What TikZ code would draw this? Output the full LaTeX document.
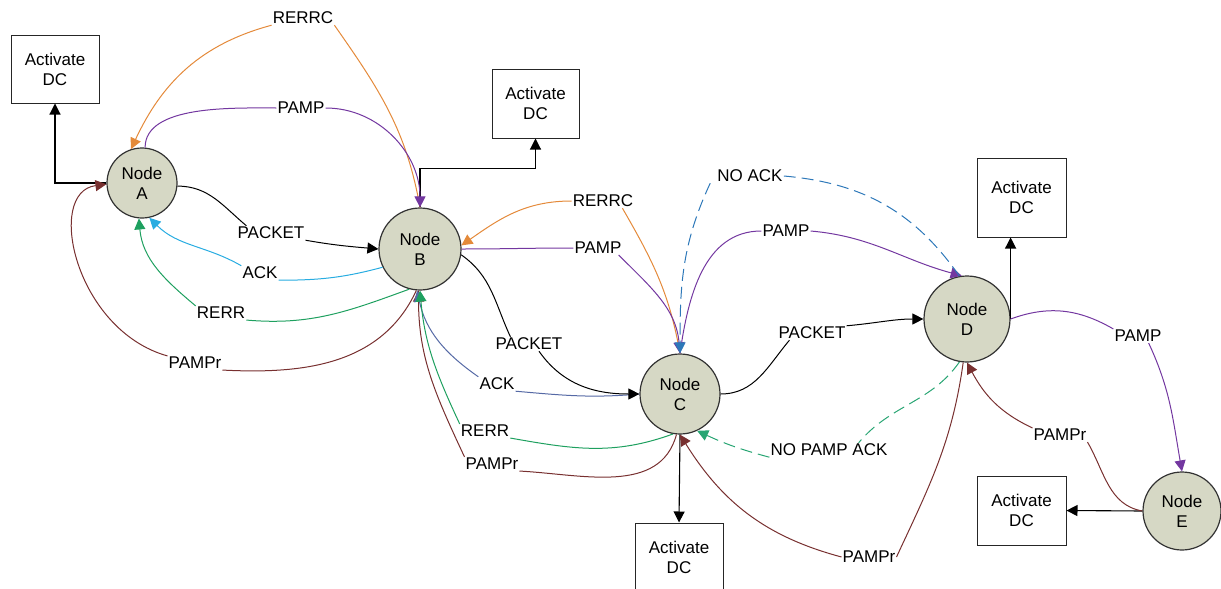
\documentclass[tikz,border=0pt]{standalone}
\usepackage{fontspec}
\setmainfont{Liberation Sans}
\usetikzlibrary{arrows.meta}
\definecolor{nodefill}{RGB}{214,216,197}
\definecolor{nodeedge}{RGB}{50,50,50}
\definecolor{orng}{RGB}{228,138,58}
\definecolor{purp}{RGB}{115,55,160}
\definecolor{cyn}{RGB}{40,172,225}
\definecolor{grn}{RGB}{30,160,95}
\definecolor{brn}{RGB}{120,48,48}
\definecolor{blu}{RGB}{45,120,185}
\definecolor{slate}{RGB}{85,105,165}
\definecolor{grndash}{RGB}{40,165,115}
\begin{document}
\begin{tikzpicture}[x=1pt,y=1pt,
  font=\fontsize{17}{20}\selectfont,
  station/.style={circle,draw=nodeedge,line width=1.2pt,fill=nodefill,inner sep=0pt,align=center},
  dcbox/.style={draw=black!85,line width=1pt,inner sep=0pt,align=center},
  lbl/.style={inner sep=1pt},
  link/.style={line width=1pt},
  blk/.style={line width=1.1pt,black},
  arrowed/.style={-{Triangle[length=11pt,width=11pt]}},
  dashline/.style={dash pattern=on 12pt off 6pt},
]
\useasboundingbox (0,0) rectangle (1221,-589);

% stations
\node[station,minimum size=70pt] (A) at (142,-183) {Node\\A};
\node[station,minimum size=82pt] (B) at (420,-249) {Node\\B};
\node[station,minimum size=80pt] (C) at (680,-394) {Node\\C};
\node[station,minimum size=86pt] (D) at (967,-319) {Node\\D};
\node[station,minimum size=78pt] (E) at (1182,-511) {Node\\E};

% activation boxes
\node[dcbox,minimum width=88pt,minimum height=68pt] (box1) at (55,-69) {Activate\\DC};
\node[dcbox,minimum width=87pt,minimum height=69pt] (box2) at (535.5,-103.5) {Activate\\DC};
\node[dcbox,minimum width=88pt,minimum height=69pt] (box3) at (679,-557.5) {Activate\\DC};
\node[dcbox,minimum width=89pt,minimum height=79pt] (box4) at (1021.5,-197.5) {Activate\\DC};
\node[dcbox,minimum width=89pt,minimum height=69pt] (box5) at (1021.5,-510.5) {Activate\\DC};

% message labels
\node[lbl] (L1) at (303,-18) {RERRC};
\node[lbl] (L2) at (301,-108) {PAMP};
\node[lbl] (L3) at (271,-233) {PACKET};
\node[lbl] (L4) at (260,-273) {ACK};
\node[lbl] (L5) at (221,-313) {RERR};
\node[lbl] (L6) at (195,-363) {PAMPr};
\node[lbl] (L7) at (603,-201) {RERRC};
\node[lbl] (L8) at (598,-248) {PAMP};
\node[lbl] (L9) at (750,-176) {NO ACK};
\node[lbl] (L10) at (786,-231) {PAMP};
\node[lbl] (L11) at (529,-344) {PACKET};
\node[lbl] (L12) at (497,-384) {ACK};
\node[lbl] (L13) at (485,-431) {RERR};
\node[lbl] (L14) at (492,-464) {PAMPr};
\node[lbl] (L15) at (812,-333) {PACKET};
\node[lbl] (L16) at (829,-450) {NO PAMP ACK};
\node[lbl] (L17) at (869,-557) {PAMPr};
\node[lbl] (L18) at (1060,-435) {PAMPr};
\node[lbl] (L19) at (1138,-336) {PAMP};

% links to the activation boxes
\draw[blk,arrowed] (A.west) -| (box1.south);
\draw[blk,arrowed] (B.north) -- ++(0,39) -| (box2.south);
\draw[blk,arrowed] (C.south) -- (box3.north);
\draw[blk,arrowed] (D.east) -- (D.east |- box4.south);
\draw[blk,arrowed] (E.west) -- (box5.east);

% PAMPr replies
\draw[brn,link,arrowed] (E.west) to[out=170,in=-60] (L18.south east)
  (L18.north west) to[out=155,in=-62] (D.-90);
\draw[brn,link,arrowed] (D.-95) to[out=-98,in=65] (L17.east)
  (L17.west) to[out=165,in=-58] (C.-90);
\draw[brn,link,arrowed] (C.-95) to[out=255,in=-3] (L14.south east)
  (L14.north west) to[out=115,in=-90] (B.268);
\draw[brn,link,arrowed] (B.265) to[out=245,in=-3] (L6.south east)
  (L6.north west) .. controls (75,-330) and (45,-192) .. (A.182);

% node A <-> node B
\draw[orng,link,arrowed] (B.north) to[out=100,in=-55] (L1.south east)
  (L1.south west) to[out=195,in=65] (A.108);
\draw[purp,link,arrowed] (A.85) to[out=90,in=180,looseness=0.8] (L2.west)
  (L2.east) to[out=0,in=90] (B.north);
\draw[blk,link,arrowed] (A.-5) to[out=0,in=140] ([xshift=10pt]L3.north west)
  (L3.south east) to[out=-10,in=175] (B.west);
\draw[cyn,link,arrowed] (B.206) to[out=195,in=0] (L4.south east)
  (L4.north west) to[out=150,in=-45] (A.-78);

% node B <-> node C
\draw[slate,link,arrowed] (C.west) to[out=185,in=-5] (L12.south east)
  (L12.north west) to[out=145,in=-78] (B.266);
\draw[orng,link,arrowed] (C.north) to[out=100,in=-60] ([xshift=-12pt]L7.south east)
  (L7.west) to[out=180,in=35] (B.5);
\draw[purp,link,arrowed] (B.east) to[out=0,in=180] (L8.west)
  ([xshift=-4pt]L8.south east) to[out=-45,in=95] (C.north);
\draw[blk,link,arrowed] (B.-8) to[out=-35,in=115] ([xshift=16pt]L11.north west)
  ([xshift=10pt]L11.south) to[out=-55,in=180] (C.west);

% node C <-> node D
\draw[purp,link,arrowed] (C.north) to[out=82,in=180] (L10.west)
  (L10.east) to[out=-5,in=165] (D.97);
\draw[blk,link,arrowed] (C.east) to[out=0,in=-130] ([xshift=12pt]L15.south west)
  (L15.north east) to[out=5,in=180] (D.west);
\draw[grndash,link,dashline,arrowed] (D.-100) to[out=235,in=50] ([xshift=-30pt]L16.north east)
  (L16.south west) to[out=165,in=-25] (C.-65);
\draw[blu,link,dashline,arrowed] (D.100) to[out=125,in=-5] (L9.east)
  ([xshift=-6pt]L9.south west) to[out=245,in=90] (C.north);

% node D -> node E
\draw[purp,link,arrowed] (D.east) to[out=20,in=150] (L19.north west)
  ([xshift=-14pt]L19.south east) to[out=-65,in=100] (E.north);

% RERR replies
\draw[grn,link,arrowed] (C.-100) to[out=200,in=-10] (L13.south east)
  (L13.north west) to[out=115,in=-85] (B.270);
\draw[grn,link,arrowed] (B.255) to[out=200,in=-5] (L5.south east)
  (L5.north west) to[out=140,in=-85] (A.-95);
\end{tikzpicture}
\end{document}
